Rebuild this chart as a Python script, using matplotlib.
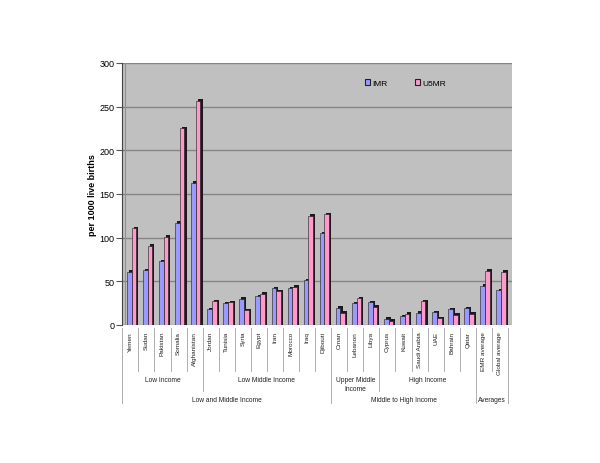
import matplotlib.pyplot as plt
from matplotlib.patches import Patch
from matplotlib.transforms import blended_transform_factory

countries = ['Yemen', 'Sudan', 'Pakistan', 'Somalia', 'Afghanistan',
             'Jordan', 'Tunisia', 'Syria', 'Egypt', 'Iran', 'Morocco', 'Iraq', 'Djibouti',
             'Oman', 'Lebanon', 'Libya',
             'Cyprus', 'Kuwait', 'Saudi Arabia', 'UAE', 'Bahrain', 'Qatar',
             'EMR average', 'Global average']
imr = [61, 63, 73, 117, 163,
       18, 25, 30, 33, 42, 42, 51, 105,
       20, 25, 26,
       7, 10, 14, 15, 18, 19,
       45, 40]
u5mr = [111, 91, 101, 225, 257,
        27, 26, 17, 36, 39, 44, 125, 127,
        14, 31, 21,
        5, 13, 27, 8, 12, 13,
        62, 61]
# (label, first category, end category)
level2 = [('Low Income', 0, 5), ('Low Middle Income', 5, 13),
          ('Upper Middle\nIncome', 13, 16), ('High Income', 16, 22)]
level3 = [('Low and Middle Income', 0, 13), ('Middle to High Income', 13, 22),
          ('Averages', 22, 24)]

plt.rcParams['font.family'] = ['Liberation Sans', 'DejaVu Sans']

fig = plt.figure(figsize=(6, 4.64), dpi=100)
H = 464.0
def fy(px):
    return 1 - px / H

ax = fig.add_axes([122.3 / 600, fy(326), (512 - 122.3) / 600, (326 - 64) / H])
ax.set_facecolor('#c0c0c0')

x = list(range(len(countries)))
w = 0.29
dark = '#1a1a1a'
xi = [i - 0.07 for i in x]
xu = [i + 0.22 for i in x]
# dark side/top of the pseudo-3D bars
ax.bar([v + 0.13 for v in xi], [v + 1.6 for v in imr], width=w, color=dark, zorder=2)
ax.bar(xi, imr, width=w, color='#9999ff', edgecolor=dark, linewidth=0.4, zorder=3)
ax.bar([v + 0.13 for v in xu], [v + 1.6 for v in u5mr], width=w, color=dark, zorder=2)
ax.bar(xu, u5mr, width=w, color='#ff99cc', edgecolor=dark, linewidth=0.4, zorder=3)

ax.set_xlim(-0.5, 23.75)
ax.set_ylim(0, 300)
ax.set_yticks(range(0, 301, 50))
ax.yaxis.grid(True, color='#858585', linewidth=1)
ax.set_axisbelow(True)
ax.axvline(-0.33, color='#909090', linewidth=0.8, zorder=1)
ax.tick_params(axis='y', labelsize=6.5, length=4, color='#555555', pad=1.5)
ax.set_xticks([])
for s in ['top', 'right', 'bottom']:
    ax.spines[s].set_visible(False)
ax.spines['left'].set_color('#444444')
ax.set_ylabel('per 1000 live births', fontsize=6.5, fontweight='bold', labelpad=2)

bt = blended_transform_factory(ax.transData, fig.transFigure)

for i, name in enumerate(countries):
    ax.text(i, fy(332), name, transform=bt, rotation=90, ha='center', va='top',
            fontsize=4.6, color='#222222')

edges2 = {0, 5, 13, 16, 22, 24}
edges3 = {0, 13, 22, 24}
for b in range(len(countries) + 1):
    end = 372
    if b in edges2:
        end = 392
    if b in edges3:
        end = 404
    ax.plot([b - 0.5, b - 0.5], [fy(329), fy(end)], transform=bt, color='#a0a0a0',
            linewidth=0.6, clip_on=False)

for label, a, e in level2:
    ax.text((a + e - 1) / 2, fy(377), label, transform=bt, ha='center', va='top',
            fontsize=4.8, color='#222222', linespacing=1.4)
for label, a, e in level3:
    ax.text((a + e - 1) / 2, fy(397), label, transform=bt, ha='center', va='top',
            fontsize=4.8, color='#222222')

handles = [Patch(facecolor='#9999ff', edgecolor='#222222', linewidth=0.8, label='IMR'),
           Patch(facecolor='#ff99cc', edgecolor='#222222', linewidth=0.8, label='U5MR')]
fig.legend(handles=handles, loc='center left', bbox_to_anchor=(361 / 600, fy(84)),
           ncol=2, frameon=False, fontsize=6, handlelength=0.6, handleheight=0.6,
           handletextpad=0.3, columnspacing=3.2, borderpad=0)

fig.savefig('out.png', dpi=100)
